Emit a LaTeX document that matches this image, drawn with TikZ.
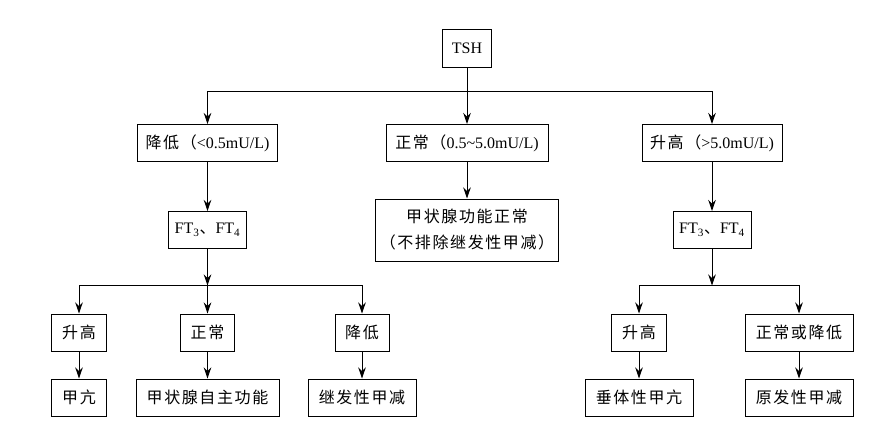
\documentclass[tikz,border=0pt]{standalone}
\usepackage{fontspec}
\setmainfont{Liberation Serif}
\newfontfamily\cjk[LetterSpace=10]{Noto Sans CJK SC}
\newcommand{\zh}[1]{{\cjk #1}}
\usetikzlibrary{arrows.meta,positioning,calc}

\begin{document}
\begin{tikzpicture}[
    x=1pt, y=1pt,
    >={Stealth[length=11pt,width=7.5pt,inset=3.5pt]},
    every node/.style={font=\fontsize{16pt}{26pt}\selectfont},
    box/.style={draw, line width=1pt, align=center, inner sep=3pt, minimum height=37pt},
    arr/.style={->, line width=1pt}
  ]
    \useasboundingbox (0,0) rectangle (882,-432);

    \node[box, minimum width=49pt, minimum height=38pt] (tsh) at (467,-48) {TSH};

    % TSH result
    \node[box, minimum width=140pt] (lo) at (207.5,-143) {\zh{降低（}<0.5mU/L)};
    \node[box, minimum width=162pt] (no) at (467,-143) {\zh{正常（}0.5\textasciitilde5.0mU/L)};
    \node[box, minimum width=140pt] (hi) at (712,-143) {\zh{升高（}>5.0mU/L)};

    \node[box, minimum width=78pt, below=49pt of lo] (ftl) {FT\textsubscript{3}\zh{、}FT\textsubscript{4}};
    \node[box, minimum width=183pt, minimum height=62pt, below=36.5pt of no] (eu) {\zh{甲状腺功能正常}\\\zh{（不排除继发性甲减）}};
    \node[box, minimum width=78pt, below=49pt of hi] (ftr) {FT\textsubscript{3}\zh{、}FT\textsubscript{4}};

    % FT3, FT4 result
    \node[box, minimum width=55pt] (a1) at (79,-332.5) {\zh{升高}};
    \node[box, minimum width=54pt] (a2) at (207.5,-332.5) {\zh{正常}};
    \node[box, minimum width=54pt] (a3) at (362,-332.5) {\zh{降低}};
    \node[box, minimum width=55pt] (b1) at (639,-332.5) {\zh{升高}};
    \node[box, minimum width=108pt] (b2) at (799,-332.5) {\zh{正常或降低}};

    \node[box, minimum width=55pt, below=27pt of a1] (c1) {\zh{甲亢}};
    \node[box, minimum width=143pt, below=27pt of a2] (c2) {\zh{甲状腺自主功能}};
    \node[box, minimum width=108pt, below=27pt of a3] (c3) {\zh{继发性甲减}};
    \node[box, minimum width=108pt, below=27pt of b1] (d1) {\zh{垂体性甲亢}};
    \node[box, minimum width=108pt, below=27pt of b2] (d2) {\zh{原发性甲减}};

    % branch points
    \coordinate[below=24pt of tsh] (j0);
    \coordinate[below=36.5pt of ftl] (jl);
    \coordinate[below=36.5pt of ftr] (jr);

    \draw[arr] (tsh) -- (no);
    \draw[arr] (j0) -| (lo);
    \draw[arr] (j0) -| (hi);

    \draw[arr] (lo) -- (ftl);
    \draw[arr] (no) -- (eu);
    \draw[arr] (hi) -- (ftr);

    \draw[arr] (ftl) -- (jl);
    \draw[arr] (jl) -| (a1);
    \draw[arr] (jl) -- (a2);
    \draw[arr] (jl) -| (a3);
    \draw[arr] (ftr) -- (jr);
    \draw[arr] (jr) -| (b1);
    \draw[arr] (jr) -| (b2);

    \draw[arr] (a1) -- (c1);
    \draw[arr] (a2) -- (c2);
    \draw[arr] (a3) -- (c3);
    \draw[arr] (b1) -- (d1);
    \draw[arr] (b2) -- (d2);
  \end{tikzpicture}
\end{document}
